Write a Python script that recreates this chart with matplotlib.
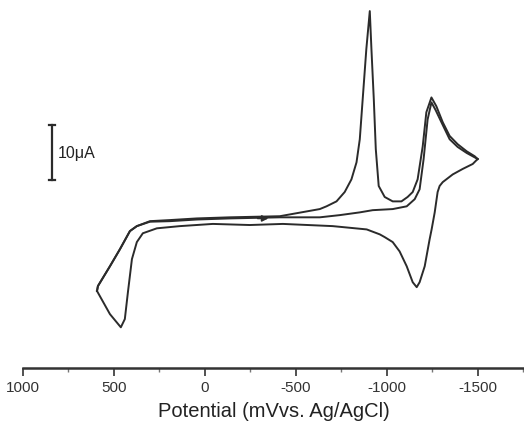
"""
Cyclic voltammogram, two scans, with a 10 uA scale bar instead of a y axis
"""

import numpy as np
import matplotlib.pyplot as plt

plt.rcParams['font.family'] = ['Liberation Sans', 'DejaVu Sans']

# potential in mV vs. Ag/AgCl, current in uA (cathodic up)
# first cathodic scan, with the sharp peak near -900 mV
scan1_E = [593, 588, 522, 467, 412, 374, 302, 192, 44, -137, -412, -632, -669,
           -724, -769, -806, -834, -852, -868, -888, -907, -916, -929, -940,
           -956, -989, -1033, -1081, -1115, -1143, -1170, -1198, -1218, -1246,
           -1273, -1308, -1346, -1390, -1440, -1484, -1500]
scan1_I = [-12.7, -11.8, -8.2, -5.1, -1.8, -0.9, 0.0, 0.2, 0.5, 0.7, 0.9, 2.2,
           2.7, 3.6, 5.3, 7.6, 10.7, 14.9, 22.2, 31.3, 38.2, 31.3, 22.2, 13.1,
           6.4, 4.4, 3.6, 3.6, 4.4, 5.3, 7.6, 13.6, 19.8, 22.5, 20.9, 18.0,
           15.5, 14.0, 12.7, 11.8, 11.3]

# second cathodic scan, no sharp peak
scan2_E = [593, 588, 522, 467, 412, 374, 302, 192, 44, -137, -412, -632, -742,
           -852, -923, -1033, -1110, -1154, -1181, -1203, -1225, -1246, -1269,
           -1308, -1346, -1390, -1440, -1484, -1500]
scan2_I = [-12.7, -11.8, -8.2, -5.1, -1.8, -0.9, -0.1, 0.0, 0.3, 0.5, 0.7, 0.7,
           1.1, 1.6, 2.0, 2.2, 2.7, 4.0, 5.8, 11.3, 18.5, 21.6, 20.2, 17.5,
           14.9, 13.5, 12.4, 11.6, 11.3]

# anodic return scan
back_E = [-1500, -1473, -1418, -1363, -1308, -1291, -1280, -1264, -1247, -1236,
          -1209, -1181, -1165, -1143, -1110, -1071, -1033, -989, -962, -890,
          -703, -429, -247, -44, 137, 264, 341, 374, 401, 423, 440, 462, 522,
          593]
back_I = [11.3, 10.4, 9.5, 8.5, 7.1, 6.4, 5.3, 1.6, -1.5, -3.3, -8.2, -11.1,
          -12.0, -11.1, -8.2, -5.5, -3.8, -2.9, -2.4, -1.5, -0.9, -0.5, -0.7,
          -0.5, -0.9, -1.3, -2.2, -3.8, -6.9, -12.9, -17.8, -19.3, -16.9,
          -12.7]

xticks = [1000, 500, 0, -500, -1000, -1500]
xtick_labels = ['1000', '500', '0', '-500', '-1000', '-1500']

line_color = '#2b2b2b'

fig = plt.figure(figsize=(5.24, 4.27), dpi=100)
ax = fig.add_axes([23 / 524, 58 / 427, 501 / 524, 369 / 427])

ax.plot(scan1_E, scan1_I, color=line_color, lw=1.4)
ax.plot(scan2_E, scan2_I, color=line_color, lw=1.4)
ax.plot(back_E, back_I, color=line_color, lw=1.4)

# scan direction arrow
ax.annotate('', xy=(-365, 0.5), xytext=(-275, 0.5),
            arrowprops=dict(arrowstyle='-|>', color=line_color, lw=1.2,
                            mutation_scale=9))

# 10 uA scale bar
ax.plot([841, 841], [7.45, 17.45], color=line_color, lw=1.6)
ax.plot([826, 856], [17.45, 17.45], color=line_color, lw=1.6)
ax.plot([826, 856], [7.45, 7.45], color=line_color, lw=1.6)
ax.text(810, 12.4, '10\u03bcA', fontsize=11.5, color='#222222',
        ha='left', va='center')

ax.set_xlim(1000, -1755)
ax.set_ylim(-26.7, 40.4)

for side in ['top', 'right', 'left']:
    ax.spines[side].set_visible(False)
ax.spines['bottom'].set_linewidth(1.8)
ax.spines['bottom'].set_color('#333333')

ax.set_yticks([])
ax.set_xticks(xticks)
ax.set_xticklabels(xtick_labels, fontsize=11, color='#222222')
ax.set_xticks(np.arange(750, -1751, -500), minor=True)
ax.tick_params(axis='x', which='major', direction='out', length=6, width=1.2,
               colors='#333333', pad=3)
ax.tick_params(axis='x', which='minor', direction='out', length=3, width=1.0,
               colors='#777777')
ax.set_xlabel('Potential (mVvs. Ag/AgCl)', fontsize=14.5, color='#222222',
              labelpad=5)

fig.savefig('out.png', dpi=100)
